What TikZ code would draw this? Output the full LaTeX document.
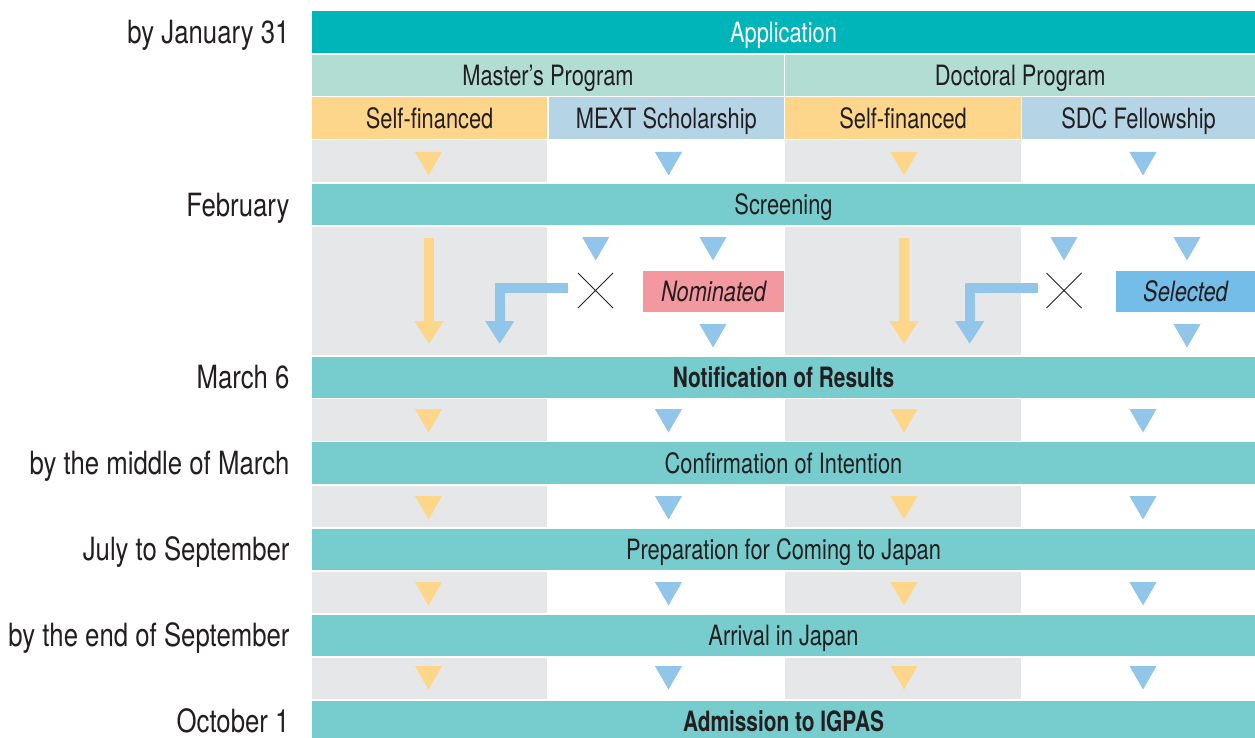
\documentclass[tikz,border=0pt]{standalone}
\usepackage{fontspec}
\setmainfont{TeX Gyre Heros}[FakeStretch=0.78, BoldFeatures={FakeStretch=0.745}]
\newfontfamily\datefont{TeX Gyre Heros}[FakeStretch=0.805]
\usetikzlibrary{arrows.meta}
\definecolor{appc}{HTML}{00B5BA}
\definecolor{progc}{HTML}{B2DDD3}
\definecolor{selfc}{HTML}{FDD68B}
\definecolor{schc}{HTML}{B5D5E6}
\definecolor{grayc}{HTML}{E6E7E9}
\definecolor{stagec}{HTML}{77CDCE}
\definecolor{triy}{HTML}{FED68A}
\definecolor{trib}{HTML}{92C5EA}
\definecolor{nomc}{HTML}{F4989F}
\definecolor{selc}{HTML}{74BDE8}
\definecolor{txt}{HTML}{231F20}
\tikzset{
  cell/.style={inner sep=0pt, outer sep=0pt, text height=20.2pt, text depth=0pt, text=txt, font=\fontsize{28}{30}\selectfont},
  datelabel/.style={anchor=east, inner sep=0pt, outer sep=0pt, text height=23pt, text depth=0pt, text=txt, font=\datefont\fontsize{32}{34}\selectfont},
  flow/.style={line width=9.6pt, -{Triangle[width=27.5pt,length=23pt]}},
  crossmark/.style={draw=txt, line width=0.9pt},
  tag/.style={font=\fontsize{28}{30}\selectfont\itshape, text height=19pt}
}
\newcommand\cellbox[8][]{%
  \node[cell, fill=#7, minimum width={(#5-#3)*1pt}, minimum height={(#6-#4)*1pt}, #1] (#2) at ({(#3+#5)/2},{(#4+#6)/2}) {#8};}
\newcommand\tridown[3]{\fill[#3] ({#1-13.6},#2) -- ({#1+13.6},#2) -- (#1,{#2+23.5}) -- cycle;}
\begin{document}
\begin{tikzpicture}[x=1pt,y=-1pt]
\useasboundingbox (0,0) rectangle (1255,738);
% gray columns
\foreach \a/\b in {140/182.3, 226.7/355.3, 399.4/440.8, 485.5/527, 571.5/613, 657.5/699}{
  \fill[grayc] (312,\a) rectangle (547.3,\b);
  \fill[grayc] (785.3,\a) rectangle (1020.8,\b);
}
% header
\cellbox[text=white]{app}{312}{11}{1255}{53.3}{appc}{Application}
\cellbox{master}{312}{54.7}{784}{96.2}{progc}{Master’s Program}
\cellbox{doctor}{785.3}{54.7}{1255}{96.2}{progc}{Doctoral Program}
\cellbox{sfm}{312}{97.4}{547.3}{138.6}{selfc}{Self-financed}
\cellbox{mext}{548.7}{97.4}{784}{138.6}{schc}{MEXT Scholarship}
\cellbox{sfd}{785.3}{97.4}{1020.8}{138.6}{selfc}{Self-financed}
\cellbox{sdc}{1022.2}{97.4}{1255}{138.6}{schc}{SDC Fellowship}
% stages
\cellbox{screen}{312}{183.7}{1255}{225.3}{stagec}{Screening}
\cellbox[font=\fontsize{28}{30}\selectfont\bfseries]{notif}{312}{356.7}{1255}{398}{stagec}{Notification of Results}
\cellbox{confirm}{312}{442.3}{1255}{484}{stagec}{Confirmation of Intention}
\cellbox{prep}{312}{528.5}{1255}{570}{stagec}{Preparation for Coming to Japan}
\cellbox{arrive}{312}{614.5}{1255}{656}{stagec}{Arrival in Japan}
\cellbox[font=\fontsize{28}{30}\selectfont\bfseries]{admit}{312}{700.5}{1255}{742}{stagec}{Admission to IGPAS}
% date labels
\node[datelabel] (d1) at (289.5,32.2) {by January 31};
\node[datelabel] (d2) at (289.5,204.5) {February};
\node[datelabel] (d3) at (289.5,377.4) {March 6};
\node[datelabel] (d4) at (289.5,463.2) {by the middle of March};
\node[datelabel] (d5) at (289.5,549.3) {July to September};
\node[datelabel] (d6) at (289.5,635.3) {by the end of September};
\node[datelabel] (d7) at (289.5,721.3) {October 1};
% row triangles
\foreach \y in {152,409,496,582,666}{
  \tridown{428.5}{\y}{triy}
  \tridown{668.5}{\y}{trib}
  \tridown{904}{\y}{triy}
  \tridown{1143}{\y}{trib}
}
% screening area
\tridown{595.7}{237}{trib}
\tridown{713}{237}{trib}
\tridown{713}{324}{trib}
\tridown{1064}{237}{trib}
\tridown{1187}{237}{trib}
\tridown{1187}{324}{trib}
\cellbox[tag]{nom}{643}{271}{784}{312}{nomc}{Nominated}
\cellbox[tag]{sel}{1116}{271}{1255}{312}{selc}{Selected}
\draw[crossmark] (578,273) -- (613,308) (578,308) -- (613,273);
\draw[crossmark] (1046.5,273) -- (1081.5,308) (1046.5,308) -- (1081.5,273);
% arrows
\coordinate (ym1) at (429,237.7);
\coordinate (ym2) at (429,344);
\coordinate (bm1) at (568,288);
\coordinate (bm2) at (499.7,344);
\coordinate (yd1) at (904,237.7);
\coordinate (yd2) at (904,344);
\coordinate (bd1) at (1037.5,288);
\coordinate (bd2) at (969.7,344);
\draw[flow, triy] (ym1) -- (ym2);
\draw[flow, trib] (bm1) -| (bm2);
\draw[flow, triy] (yd1) -- (yd2);
\draw[flow, trib] (bd1) -| (bd2);
\end{tikzpicture}
\end{document}
